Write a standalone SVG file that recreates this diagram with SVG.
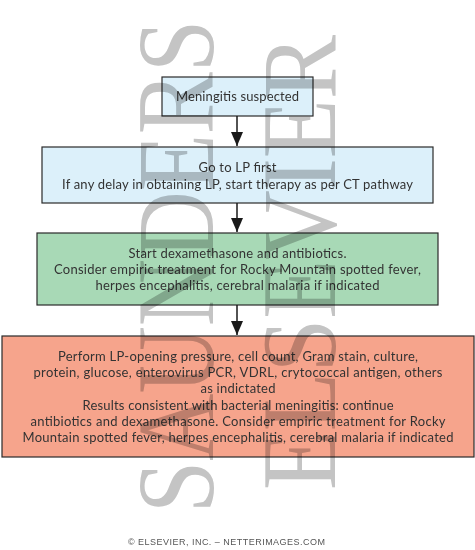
<svg xmlns="http://www.w3.org/2000/svg" width="475" height="550" viewBox="0 0 475 550">
<style>
.box{stroke:#2a2a2a;stroke-width:1.2}
.blue{fill:#dcf0fa}
.green{fill:#a8d9b6}
.salmon{fill:#f6a48c}
.t{font-family:Lato,"Open Sans","Liberation Sans",sans-serif;font-size:13px;fill:#333;text-anchor:middle}
.conn{stroke:#1a1a1a;stroke-width:1.5;fill:none}
.wm{font-family:"Liberation Serif","DejaVu Serif",serif;fill:#c4c4c4;mix-blend-mode:multiply}
.copy{font-family:"Liberation Sans",Arial,sans-serif;font-size:9px;fill:#555;text-anchor:middle}
</style>
<defs>
<marker id="ah" viewBox="0 0 12 14" refX="6" refY="14" markerWidth="12" markerHeight="14" markerUnits="userSpaceOnUse" orient="0">
<path d="M0,0 L12,0 L6,14 z" fill="#1a1a1a"/>
</marker>
</defs>
<rect width="475" height="550" fill="#ffffff"/>

<g id="node1">
<rect class="box blue" x="162" y="77" width="151" height="39"/>
<text class="t" x="237.5" y="101" textLength="123">Meningitis suspected</text>
</g>

<g id="node2">
<rect class="box blue" x="42" y="147" width="391" height="56"/>
<text class="t" x="237.5" y="172" textLength="78">Go to LP first</text>
<text class="t" x="237.5" y="189" textLength="351">If any delay in obtaining LP, start therapy as per CT pathway</text>
</g>

<g id="node3">
<rect class="box green" x="37" y="233" width="401" height="72"/>
<text class="t" x="237.5" y="258" textLength="218">Start dexamethasone and antibiotics.</text>
<text class="t" x="237.5" y="274" textLength="367">Consider empiric treatment for Rocky Mountain spotted fever,</text>
<text class="t" x="237.5" y="290" textLength="284">herpes encephalitis, cerebral malaria if indicated</text>
</g>

<g id="node4">
<rect class="box salmon" x="2" y="336" width="472" height="121"/>
<text class="t" x="238" y="361" textLength="360">Perform LP-opening pressure, cell count, Gram stain, culture,</text>
<text class="t" x="238" y="377" textLength="409">protein, glucose, enterovirus PCR, VDRL, crytococcal antigen, others</text>
<text class="t" x="238" y="393" textLength="75">as indictated</text>
<text class="t" x="238" y="410" textLength="311">Results consistent with bacterial meningitis: continue</text>
<text class="t" x="238" y="426" textLength="415">antibiotics and dexamethasone. Consider empiric treatment for Rocky</text>
<text class="t" x="238" y="442" textLength="431">Mountain spotted fever, herpes encephalitis, cerebral malaria if indicated</text>
</g>

<g id="connectors">
<line class="conn" x1="237" y1="116" x2="237" y2="146" marker-end="url(#ah)"/>
<line class="conn" x1="237" y1="203" x2="237" y2="232" marker-end="url(#ah)"/>
<line class="conn" x1="237" y1="305" x2="237" y2="335" marker-end="url(#ah)"/>
</g>

<g id="watermark">
<text class="wm" transform="translate(213,513) rotate(-90)" font-size="110" textLength="493" lengthAdjust="spacingAndGlyphs">SAUNDERS</text>
<text class="wm" transform="translate(335,490) rotate(-90)" font-size="106" textLength="455" lengthAdjust="spacingAndGlyphs">ELSEVIER</text>
</g>

<text class="copy" x="226.5" y="545" textLength="197">© ELSEVIER, INC. – NETTERIMAGES.COM</text>
</svg>
